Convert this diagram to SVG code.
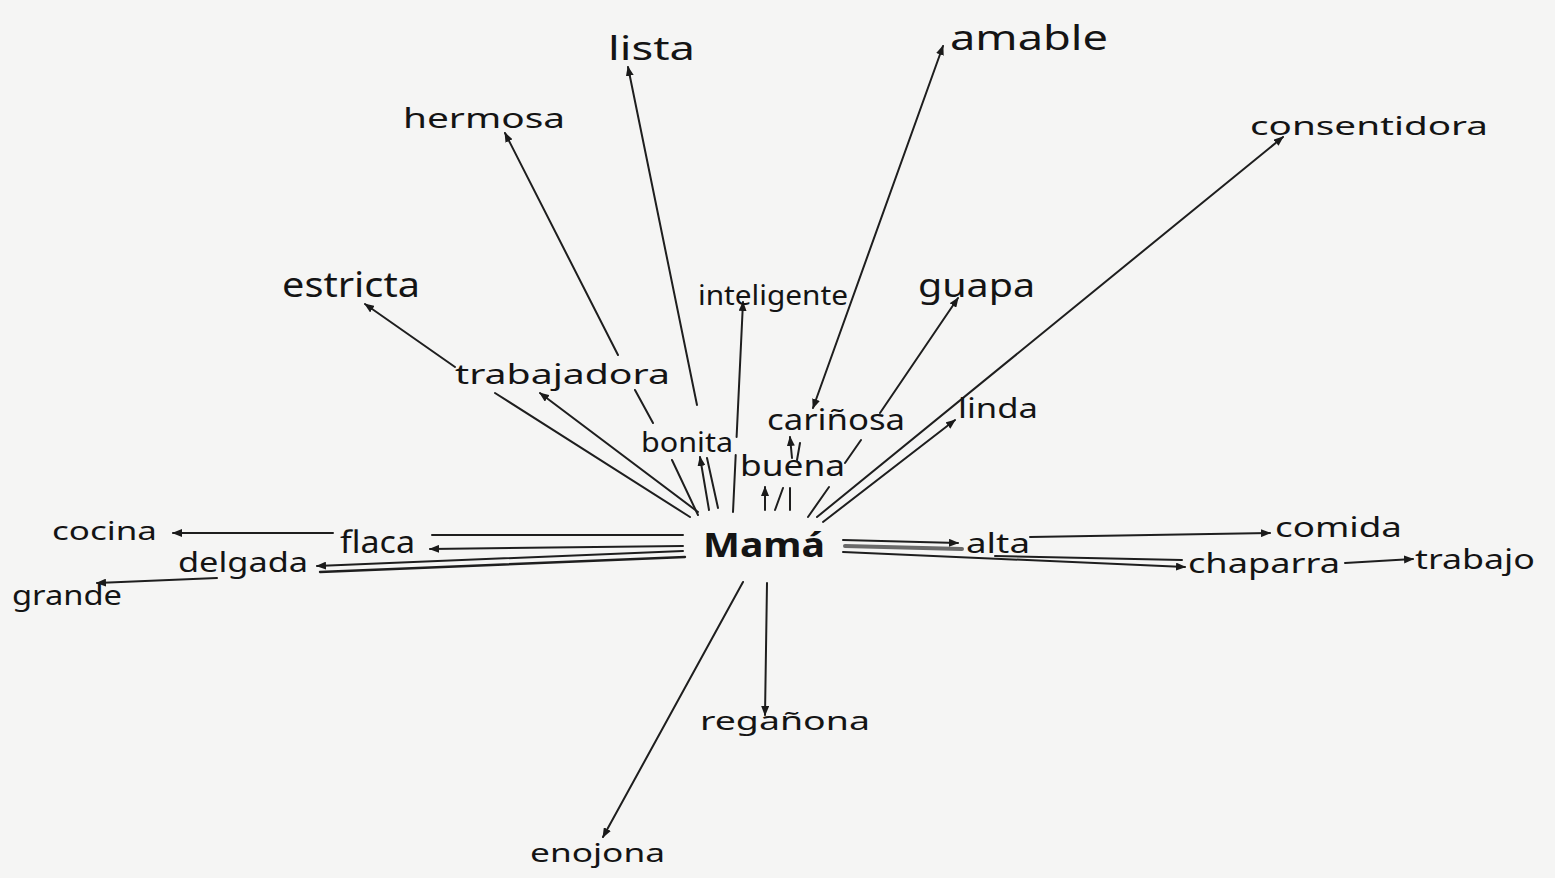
<svg xmlns="http://www.w3.org/2000/svg" width="1555" height="878" viewBox="0 0 1555 878">
<defs>
<marker id="ah" markerUnits="userSpaceOnUse" markerWidth="10" markerHeight="8" refX="9" refY="4" orient="auto-start-reverse">
<path d="M0,0 L10,4 L0,8 z" fill="#1a1a1a"/>
</marker>
<style>
.c{fill:none;stroke:#1e1e1e;stroke-width:2;stroke-linecap:round}
.g{fill:none;stroke:#6a6a6a;stroke-width:4;stroke-linecap:round}
.a{marker-end:url(#ah)}
text{font-family:"Noto Sans","Liberation Sans",sans-serif;fill:#141414;font-weight:400}
.m{font-weight:700}
</style>
</defs>
<rect width="1555" height="878" fill="#f5f5f4"/>
<g id="connectors">
<path class="c a" d="M690,517 L495,393 M455,367 L365,304"/>
<path class="c a" d="M698,512 L540,393"/>
<path class="c a" d="M698,515 L672,460 M653,423 L635,390 M618,355 L505,133"/>
<path class="c a" d="M718,508 L707,458 M697,405 L628,67"/>
<path class="c a" d="M709,510 L700,457"/>
<path class="c a" d="M733,512 L735.7,455 M736.6,437 L743,302"/>
<path class="c" d="M775,510 L783,488 M797,460 L800,443"/>
<path class="c a" d="M813,408 L943,46" marker-start="url(#ah)"/>
<path class="c a" d="M790,510 L790,488 M792,458 L790,437"/>
<path class="c a" d="M765,510 L765,487"/>
<path class="c a" d="M808,517 L829,487 M845,463 L861,440 M880,413 L958,298"/>
<path class="c a" d="M817,517 L1283,137"/>
<path class="c a" d="M823,522 L955,420"/>
<path class="c a" d="M683,535 L432,535 M333,533 L173,533"/>
<path class="c a" d="M683,546 L430,549"/>
<path class="c a" d="M683,551 L317,566"/>
<path class="c" d="M685,557 L320,572" style="stroke-width:2.4"/>
<path class="c a" d="M217,578 L97,583"/>
<path class="g" d="M845,546 L962,549"/>
<path class="c a" d="M843,540 L958,543"/>
<path class="c a" d="M1030,537 L1270,533"/>
<path class="c a" d="M843,552 L1185,567"/>
<path class="c" d="M995,556 L1182,560"/>
<path class="c a" d="M1345,563 L1413,559"/>
<path class="c a" d="M767,583 L765,715"/>
<path class="c a" d="M743,582 L603,837"/>
</g>
<g id="n-mama"><text class="m" x="703" y="557" font-size="34" textLength="122" lengthAdjust="spacingAndGlyphs">Mamá</text></g>
<g id="n-lista"><text x="608" y="60" font-size="32" textLength="87" lengthAdjust="spacingAndGlyphs">lista</text></g>
<g id="n-hermosa"><text x="403" y="128" font-size="28" textLength="162" lengthAdjust="spacingAndGlyphs">hermosa</text></g>
<g id="n-amable"><text x="950" y="50" font-size="34" textLength="158" lengthAdjust="spacingAndGlyphs">amable</text></g>
<g id="n-consentidora"><text x="1250" y="135" font-size="26" textLength="238" lengthAdjust="spacingAndGlyphs">consentidora</text></g>
<g id="n-estricta"><text x="282" y="297" font-size="34" textLength="138" lengthAdjust="spacingAndGlyphs">estricta</text></g>
<g id="n-inteligente"><text x="698" y="305" font-size="28" textLength="150" lengthAdjust="spacingAndGlyphs">inteligente</text></g>
<g id="n-guapa"><text x="918" y="297" font-size="32" textLength="117" lengthAdjust="spacingAndGlyphs">guapa</text></g>
<g id="n-trabajadora"><text x="455" y="384" font-size="28" textLength="215" lengthAdjust="spacingAndGlyphs">trabajadora</text></g>
<g id="n-bonita"><text x="641" y="452" font-size="27" textLength="92" lengthAdjust="spacingAndGlyphs">bonita</text></g>
<g id="n-carinosa"><text x="767" y="430" font-size="29" textLength="138" lengthAdjust="spacingAndGlyphs">cariñosa</text></g>
<g id="n-linda"><text x="958" y="418" font-size="27" textLength="80" lengthAdjust="spacingAndGlyphs">linda</text></g>
<g id="n-buena"><text x="740" y="476" font-size="29" textLength="105" lengthAdjust="spacingAndGlyphs">buena</text></g>
<g id="n-cocina"><text x="52" y="540" font-size="26" textLength="105" lengthAdjust="spacingAndGlyphs">cocina</text></g>
<g id="n-flaca"><text x="340" y="553" font-size="30" textLength="75" lengthAdjust="spacingAndGlyphs">flaca</text></g>
<g id="n-delgada"><text x="178" y="572" font-size="28" textLength="130" lengthAdjust="spacingAndGlyphs">delgada</text></g>
<g id="n-grande"><text x="12" y="605" font-size="28" textLength="110" lengthAdjust="spacingAndGlyphs">grande</text></g>
<g id="n-alta"><text x="966" y="553" font-size="28" textLength="64" lengthAdjust="spacingAndGlyphs">alta</text></g>
<g id="n-comida"><text x="1275" y="537" font-size="28" textLength="127" lengthAdjust="spacingAndGlyphs">comida</text></g>
<g id="n-chaparra"><text x="1188" y="573" font-size="28" textLength="152" lengthAdjust="spacingAndGlyphs">chaparra</text></g>
<g id="n-trabajo"><text x="1415" y="569" font-size="28" textLength="120" lengthAdjust="spacingAndGlyphs">trabajo</text></g>
<g id="n-reganona"><text x="700" y="730" font-size="26" textLength="170" lengthAdjust="spacingAndGlyphs">regañona</text></g>
<g id="n-enojona"><text x="530" y="862" font-size="26" textLength="135" lengthAdjust="spacingAndGlyphs">enojona</text></g>
</svg>
